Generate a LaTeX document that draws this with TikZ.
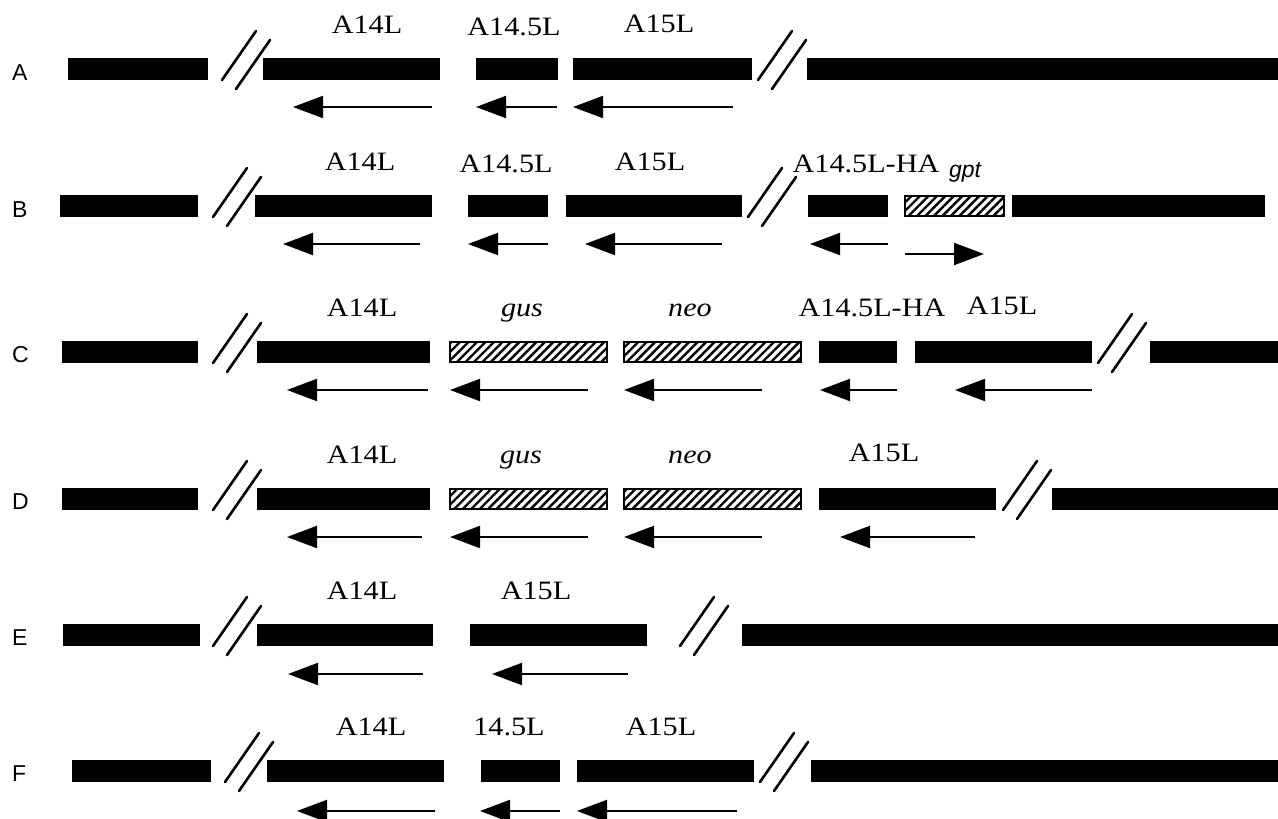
\documentclass[tikz,border=0pt]{standalone}
\usepackage{fontspec}
\setmainfont{Liberation Serif}[FakeStretch=1.14]
\newfontfamily\rowfont{Liberation Sans}
\usetikzlibrary{arrows.meta,patterns.meta}
\tikzset{
  genebar/.style={fill=black, draw=none, inner sep=0pt, minimum height=22pt, rectangle},
  hatchbar/.style={draw=black, line width=1.8pt, inner sep=0pt, minimum height=19.5pt, rectangle,
     pattern={Lines[angle=45, distance=6pt, line width=2.4pt]}},
  brkline/.style={line width=2.6pt, line cap=round},
  garrow/.style={line width=2pt, -{Triangle[length=30pt, width=22pt]}},
  glabel/.style={font=\fontsize{26.5}{30}\selectfont, anchor=base, inner sep=0pt},
  ilabel/.style={font=\fontsize{26.5}{30}\selectfont\itshape, anchor=base, inner sep=0pt},
  rowlabel/.style={font=\rowfont\fontsize{23}{26}\selectfont, anchor=base west, inner sep=0pt},
}
\newcommand\mygenebar[4]{\node[genebar, minimum width={#3-#2}] (#1) at ({(#2+#3)/2},#4) {};}
\newcommand\myhatchbar[4]{\node[hatchbar, minimum width={#3-#2}] (#1) at ({(#2+#3)/2},#4) {};}
\newcommand\mybreak[2]{%
  \draw[brkline] (#1,#2+11) -- (#1+34,#2-38);
  \draw[brkline] (#1+14,#2+20) -- (#1+48,#2-29);}
\begin{document}
\begin{tikzpicture}[x=1pt,y=-1pt]
\useasboundingbox (0,0) rectangle (1278,819);
% ---------- Row A
\node[rowlabel] (rA) at (12,80) {A};
\mygenebar{a1}{68}{208}{69}
\mybreak{222}{69}
\mygenebar{a2}{263}{440}{69}
\mygenebar{a3}{476}{558}{69}
\mygenebar{a4}{573}{752}{69}
\mybreak{758}{69}
\mygenebar{a5}{807}{1278}{69}
\node[glabel] (la1) at (367,33) {A14L};
\node[glabel] (la2) at (514,35) {A14.5L};
\node[glabel] (la3) at (659,32) {A15L};
\draw[garrow] (432,107) -- (293,107);
\draw[garrow] (557,107) -- (476,107);
\draw[garrow] (733,107) -- (573,107);
% ---------- Row B
\node[rowlabel] (rB) at (12,217) {B};
\mygenebar{b1}{60}{198}{206}
\mybreak{213}{206}
\mygenebar{b2}{255}{432}{206}
\mygenebar{b3}{468}{548}{206}
\mygenebar{b4}{566}{742}{206}
\mybreak{748}{206}
\mygenebar{b5}{808}{888}{206}
\myhatchbar{b6}{905}{1004}{206}
\mygenebar{b7}{1012}{1265}{206}
\node[glabel] (lb1) at (360,170) {A14L};
\node[glabel] (lb2) at (506,172) {A14.5L};
\node[glabel] (lb3) at (650,170) {A15L};
\node[glabel] (lb4) at (866,172) {A14.5L-HA};
\node[font=\rowfont\itshape\fontsize{23}{26}\selectfont, anchor=base, inner sep=0pt] (lb5) at (965,177) {gpt};
\draw[garrow] (420,244) -- (283,244);
\draw[garrow] (548,244) -- (468,244);
\draw[garrow] (722,244) -- (585,244);
\draw[garrow] (888,244) -- (810,244);
\draw[garrow] (905,254) -- (984,254);
% ---------- Row C
\node[rowlabel] (rC) at (12,362) {C};
\mygenebar{c1}{62}{198}{352}
\mybreak{213}{352}
\mygenebar{c2}{257}{430}{352}
\myhatchbar{c3}{450}{607}{352}
\myhatchbar{c4}{624}{801}{352}
\mygenebar{c5}{819}{897}{352}
\mygenebar{c6}{915}{1092}{352}
\mybreak{1098}{352}
\mygenebar{c7}{1150}{1278}{352}
\node[glabel] (lc1) at (362,316) {A14L};
\node[ilabel] (lc2) at (522,316) {gus};
\node[ilabel] (lc3) at (690,316) {neo};
\node[glabel] (lc4) at (872,316) {A14.5L-HA};
\node[glabel] (lc5) at (1002,314) {A15L};
\draw[garrow] (428,390) -- (287,390);
\draw[garrow] (588,390) -- (450,390);
\draw[garrow] (762,390) -- (624,390);
\draw[garrow] (897,390) -- (820,390);
\draw[garrow] (1092,390) -- (955,390);
% ---------- Row D
\node[rowlabel] (rD) at (12,509) {D};
\mygenebar{d1}{62}{198}{499}
\mybreak{213}{499}
\mygenebar{d2}{257}{430}{499}
\myhatchbar{d3}{450}{607}{499}
\myhatchbar{d4}{624}{801}{499}
\mygenebar{d5}{819}{996}{499}
\mybreak{1003}{499}
\mygenebar{d6}{1052}{1278}{499}
\node[glabel] (ld1) at (362,463) {A14L};
\node[ilabel] (ld2) at (521,463) {gus};
\node[ilabel] (ld3) at (690,463) {neo};
\node[glabel] (ld4) at (884,461) {A15L};
\draw[garrow] (422,537) -- (287,537);
\draw[garrow] (588,537) -- (450,537);
\draw[garrow] (762,537) -- (624,537);
\draw[garrow] (975,537) -- (840,537);
% ---------- Row E
\node[rowlabel] (rE) at (12,645) {E};
\mygenebar{e1}{63}{200}{635}
\mybreak{213}{635}
\mygenebar{e2}{257}{433}{635}
\mygenebar{e3}{470}{647}{635}
\mybreak{680}{635}
\mygenebar{e4}{742}{1278}{635}
\node[glabel] (le1) at (362,599) {A14L};
\node[glabel] (le2) at (536,599) {A15L};
\draw[garrow] (423,674) -- (288,674);
\draw[garrow] (628,674) -- (492,674);
% ---------- Row F
\node[rowlabel] (rF) at (12,781) {F};
\mygenebar{f1}{72}{211}{771}
\mybreak{225}{771}
\mygenebar{f2}{267}{444}{771}
\mygenebar{f3}{481}{560}{771}
\mygenebar{f4}{577}{754}{771}
\mybreak{760}{771}
\mygenebar{f5}{811}{1278}{771}
\node[glabel] (lf1) at (371,735) {A14L};
\node[glabel] (lf2) at (509,735) {14.5L};
\node[glabel] (lf3) at (661,735) {A15L};
\draw[garrow] (435,811) -- (297,811);
\draw[garrow] (560,811) -- (480,811);
\draw[garrow] (737,811) -- (577,811);
\end{tikzpicture}
\end{document}
